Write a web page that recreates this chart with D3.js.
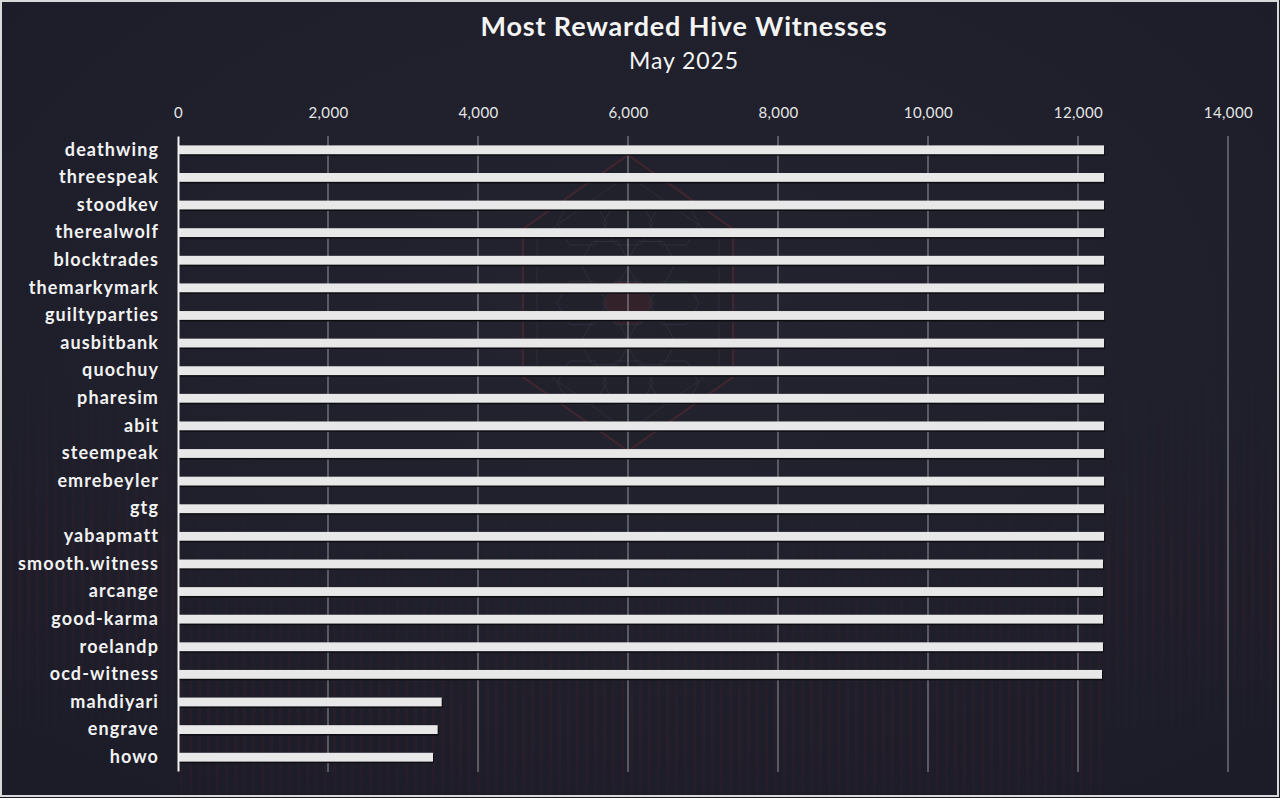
<!DOCTYPE html>
<html>
<head>
<meta charset="utf-8">
<script src="https://cdn.jsdelivr.net/npm/d3@7"></script>
<style>
  html, body { margin: 0; padding: 0; background: #1d1e2a; }
  svg { display: block; }
</style>
</head>
<body>
<script>
const witnesses = ['deathwing', 'threespeak', 'stoodkev', 'therealwolf', 'blocktrades',
  'themarkymark', 'guiltyparties', 'ausbitbank', 'quochuy', 'pharesim', 'abit',
  'steempeak', 'emrebeyler', 'gtg', 'yabapmatt', 'smooth.witness', 'arcange',
  'good-karma', 'roelandp', 'ocd-witness', 'mahdiyari', 'engrave', 'howo']
const rewards = [12347, 12347, 12347, 12347, 12347, 12347, 12347, 12347, 12347, 12347,
  12347, 12347, 12347, 12347, 12347, 12333, 12333, 12333, 12333, 12320, 3516, 3462, 3400]
const xTicks = [0, 2000, 4000, 6000, 8000, 10000, 12000, 14000]
const title = 'Most Rewarded Hive Witnesses'
const subtitle = 'May 2025'

const width = 1280
const height = 798
const margin = { top: 136, right: 52, bottom: 27, left: 178 }
const font = 'Lato, "Open Sans", sans-serif'

const svg = d3.select('body')
  .append('svg')
  .attr('width', width)
  .attr('height', height)

// background
const defs = svg.append('defs')
const bg = defs.append('radialGradient')
  .attr('id', 'bg')
  .attr('cx', '50%').attr('cy', '40%').attr('r', '75%')
bg.append('stop').attr('offset', '0%').attr('stop-color', '#23242f')
bg.append('stop').attr('offset', '100%').attr('stop-color', '#1b1c28')

const glow = defs.append('linearGradient')
  .attr('id', 'glow')
  .attr('x1', 0).attr('y1', 0).attr('x2', 0).attr('y2', 1)
glow.append('stop').attr('offset', '0%').attr('stop-color', '#5a1f2a').attr('stop-opacity', 0)
glow.append('stop').attr('offset', '60%').attr('stop-color', '#5a1f2a').attr('stop-opacity', 0.35)
glow.append('stop').attr('offset', '100%').attr('stop-color', '#5a1f2a').attr('stop-opacity', 0.05)

svg.append('rect')
  .attr('width', width)
  .attr('height', height)
  .attr('fill', 'url(#bg)')

// faint hive emblem in the middle
const cx = 628
const cy = 303
const deco = svg.append('g').attr('opacity', 0.45)
const hexPath = (hx, hy, r, sx) => d3.range(6).map(k => {
  let a = Math.PI / 180 * (60 * k - 90)
  return [hx + r * sx * Math.cos(a), hy + r * Math.sin(a)]
})
deco.append('polygon')
  .attr('points', hexPath(cx, cy, 148, 0.82).join(' '))
  .attr('fill', '#1f2029')
  .attr('stroke', '#6a2a33')
  .attr('stroke-width', 2)
deco.append('polygon')
  .attr('points', hexPath(cx, cy, 128, 0.82).join(' '))
  .attr('fill', 'none')
  .attr('stroke', '#3a3b47')
  .attr('stroke-width', 1)
const cells = [[0, 0], [1, 0], [-1, 0], [0.5, -0.866], [-0.5, -0.866], [0.5, 0.866],
  [-0.5, 0.866], [0, -1.732], [0, 1.732], [1, -1.732], [-1, -1.732], [1, 1.732], [-1, 1.732]]
deco.selectAll('.cell')
  .data(cells)
  .enter()
  .append('polygon')
  .attr('points', d => d3.range(6).map(k => {
    let a = Math.PI / 180 * (60 * k)
    return [cx + d[0] * 46 + 25 * Math.cos(a), cy + d[1] * 46 + 25 * Math.sin(a)]
  }).join(' '))
  .attr('fill', (d, i) => i === 0 ? '#4a2028' : 'none')
  .attr('stroke', '#3c3d4a')
  .attr('stroke-width', 1)

// faint red stripes near the bottom and the sides
const stripes = svg.append('g').attr('opacity', 0.55)
stripes.selectAll('rect')
  .data(d3.range(0, width, 9))
  .enter()
  .append('rect')
  .attr('x', d => d)
  .attr('y', (d, i) => (d < 180 || d > 1100 ? 330 : 470) + (i * 37) % 90)
  .attr('width', 3)
  .attr('height', (d, i) => 400 - (i * 37) % 90)
  .attr('fill', 'url(#glow)')

const x = d3.scaleLinear()
  .domain([0, 14000])
  .range([margin.left, width - margin.right])

const y = d3.scaleBand()
  .domain(witnesses)
  .range([margin.top, height - margin.bottom])
  .paddingInner(0.68)
  .paddingOuter(0.34)

// top axis labels
const xAxis = svg.append('g')
  .attr('transform', `translate(0,${margin.top})`)
  .call(d3.axisTop(x)
    .tickValues(xTicks)
    .tickFormat(d3.format(','))
    .tickSize(0)
    .tickPadding(18))
xAxis.select('.domain').remove()
xAxis.selectAll('text')
  .attr('fill', '#e6e6e6')
  .attr('font-family', font)
  .attr('font-size', '15px')
  .attr('letter-spacing', '0.4px')

// gridlines
svg.append('g')
  .selectAll('line')
  .data(xTicks.slice(1))
  .enter()
  .append('line')
  .attr('x1', d => x(d))
  .attr('x2', d => x(d))
  .attr('y1', margin.top)
  .attr('y2', height - margin.bottom + 1)
  .attr('stroke', '#9a9ba3')
  .attr('stroke-opacity', 0.8)
  .attr('stroke-width', 1.2)

// bars with a thin dark shadow
svg.append('g')
  .selectAll('rect')
  .data(witnesses)
  .enter()
  .append('rect')
  .attr('x', x(0))
  .attr('y', d => y(d) + 1.5)
  .attr('width', (d, i) => x(rewards[i]) - x(0) + 1)
  .attr('height', y.bandwidth())
  .attr('fill', '#0d0d12')

svg.append('g')
  .selectAll('rect')
  .data(witnesses)
  .enter()
  .append('rect')
  .attr('x', x(0))
  .attr('y', d => y(d))
  .attr('width', (d, i) => x(rewards[i]) - x(0))
  .attr('height', y.bandwidth())
  .attr('fill', '#e8e8e8')

// y axis
const yAxis = svg.append('g')
  .attr('transform', `translate(${margin.left},0)`)
  .call(d3.axisLeft(y).tickSize(0).tickPadding(20))
yAxis.select('.domain')
  .attr('stroke', '#f2f2f2')
  .attr('stroke-width', 2)
yAxis.selectAll('text')
  .attr('fill', '#f2f2f2')
  .attr('font-family', font)
  .attr('font-weight', 'bold')
  .attr('font-size', '18px')
  .attr('letter-spacing', '1.1px')
  .attr('dx', '1px')

// titles
svg.append('text')
  .attr('x', 684)
  .attr('y', 36)
  .attr('text-anchor', 'middle')
  .attr('fill', '#f4f4f4')
  .attr('font-family', font)
  .attr('font-weight', 'bold')
  .attr('font-size', '27px')
  .attr('letter-spacing', '0.85px')
  .text(title)

svg.append('text')
  .attr('x', 684)
  .attr('y', 69)
  .attr('text-anchor', 'middle')
  .attr('fill', '#f4f4f4')
  .attr('font-family', font)
  .attr('font-size', '23px')
  .attr('letter-spacing', '0.9px')
  .text(subtitle)

// outer frame
svg.append('rect')
  .attr('x', 1)
  .attr('y', 1)
  .attr('width', width - 3)
  .attr('height', height - 3)
  .attr('fill', 'none')
  .attr('stroke', '#d9d9d9')
  .attr('stroke-width', 2)
</script>
</body>
</html>
